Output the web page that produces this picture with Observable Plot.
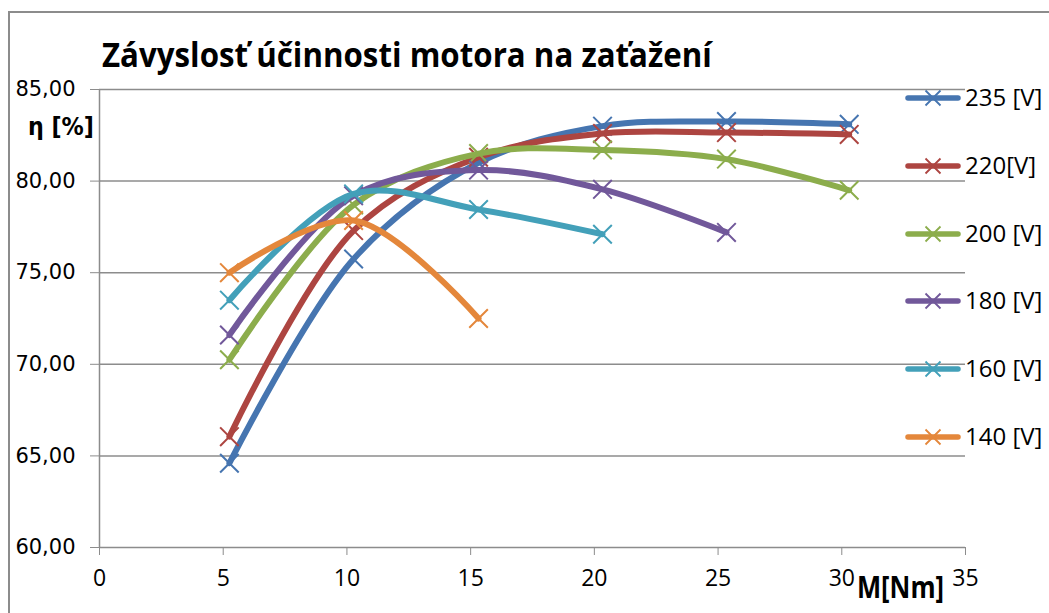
<!DOCTYPE html>
<html><head><meta charset="utf-8">
<script src="https://cdn.jsdelivr.net/npm/d3@7"></script>
<script src="https://cdn.jsdelivr.net/npm/@observablehq/plot@0.6"></script>
<style>
html,body{margin:0;padding:0;background:#fff;overflow:hidden;width:1049px;height:613px;}
#wrap{position:relative;width:1049px;height:613px;overflow:hidden;}
#frame{position:absolute;left:8px;top:11px;width:1100px;height:700px;border-left:2px solid #8c8c8c;border-top:2px solid #8c8c8c;box-sizing:border-box;}
#chart{position:absolute;left:0;top:0;}
#overlay{position:absolute;left:0;top:0;pointer-events:none;}
</style></head><body>
<div id="wrap"><div id="frame"></div><div id="chart"></div><svg id="overlay" width="1049" height="613"></svg></div>
<script>
// ---- data ----
const torque = [5.25, 10.27, 15.32, 20.33, 25.34, 30.3];
const eta235 = [64.6, 75.75, 81.0, 83.0, 83.25, 83.1];
const eta220 = [66.05, 77.3, 81.3, 82.6, 82.65, 82.55];
const eta200 = [70.25, 78.7, 81.5, 81.7, 81.2, 79.5];
const eta180 = [71.6, 79.2, 80.6, 79.55, 77.2];
const eta160 = [73.5, 79.3, 78.45, 77.1];
const eta140 = [75.0, 77.85, 72.5];
const seriesNames = ["235 [V]", "220[V]", "200 [V]", "180 [V]", "160 [V]", "140 [V]"];
const seriesValues = [eta235, eta220, eta200, eta180, eta160, eta140];
const seriesColors = ["#4675b0", "#ad4541", "#8cad4c", "#71589a", "#43a0b9", "#e4873b"];
const yTicks = [60, 65, 70, 75, 80, 85];
const xTicks = [0, 5, 10, 15, 20, 25, 30, 35];
const titleText = "Závyslosť účinnosti motora na zaťažení";
const yLabel = "η [%]";
const xLabel = "M[Nm]";

const rows = seriesValues.flatMap((vals, i) =>
  vals.map((v, j) => ({series: seriesNames[i], M: torque[j], eta: v})));

const marks = [
  Plot.gridY(yTicks, {stroke: "#8c8c8c", strokeOpacity: 1, strokeWidth: 1.5}),
  Plot.ruleX([0], {stroke: "#8c8c8c", strokeWidth: 1.5}),
  Plot.axisY(yTicks, {tickSize: 9, tickPadding: 15, stroke: "#8c8c8c", fill: "#000",
    tickFormat: d => d.toFixed(2).replace(".", ","), fontSize: 21, fontFamily: "DejaVu Sans", label: null}),
  Plot.axisX(xTicks, {tickSize: 8, tickPadding: 14, stroke: "#8c8c8c", fill: "#000",
    fontSize: 23, fontFamily: "Open Sans", label: null})
];
seriesNames.forEach((name, i) => {
  const d = rows.filter(r => r.series === name);
  marks.push(Plot.line(d, {x: "M", y: "eta", stroke: seriesColors[i], strokeWidth: 6, curve: "catmull-rom"}));
  marks.push(Plot.dot(d, {x: "M", y: "eta", symbol: "times", r: 8.5, stroke: seriesColors[i], strokeWidth: 2}));
});

const chart = Plot.plot({
  width: 1049, height: 613,
  marginLeft: 99, marginRight: 84, marginTop: 89, marginBottom: 66,
  x: {domain: [0, 35]},
  y: {domain: [60, 85]},
  style: {background: "transparent", overflow: "visible", fontFamily: "DejaVu Sans", color: "#000"},
  marks
});
document.getElementById("chart").appendChild(chart);

// ---- overlay: title, axis titles, legend ----
const ov = d3.select("#overlay");
function fitText(txt, x, y, family, size, targetWidth) {
  const t = ov.append("text").attr("font-family", family).attr("font-weight", "bold")
    .attr("font-size", size).attr("fill", "#000").text(txt);
  const w = t.node().getComputedTextLength() || targetWidth;
  t.attr("transform", `translate(${x},${y}) scale(${targetWidth / w},1)`);
  return t;
}
fitText(titleText, 102, 67, "Open Sans", 34, 610);
fitText(yLabel, 28, 135, "DejaVu Sans", 24, 66);
fitText(xLabel, 857, 598, "Open Sans", 30, 87);

const legendY = [98, 166, 234, 301, 369, 437];
seriesNames.forEach((name, i) => {
  const g = ov.append("g").attr("transform", `translate(0,${legendY[i]})`);
  g.append("line").attr("x1", 908).attr("x2", 958).attr("y1", 0).attr("y2", 0)
    .attr("stroke", seriesColors[i]).attr("stroke-width", 5.5).attr("stroke-linecap", "round");
  const s = 7.5;
  g.append("path").attr("d", `M${933 - s},${-s}L${933 + s},${s}M${933 - s},${s}L${933 + s},${-s}`)
    .attr("stroke", seriesColors[i]).attr("stroke-width", 1.8).attr("fill", "none");
  g.append("text").attr("x", 965).attr("y", 8)
    .attr("font-family", "Open Sans").attr("font-size", 24).attr("fill", "#000").text(name);
});
</script>
</body></html>
